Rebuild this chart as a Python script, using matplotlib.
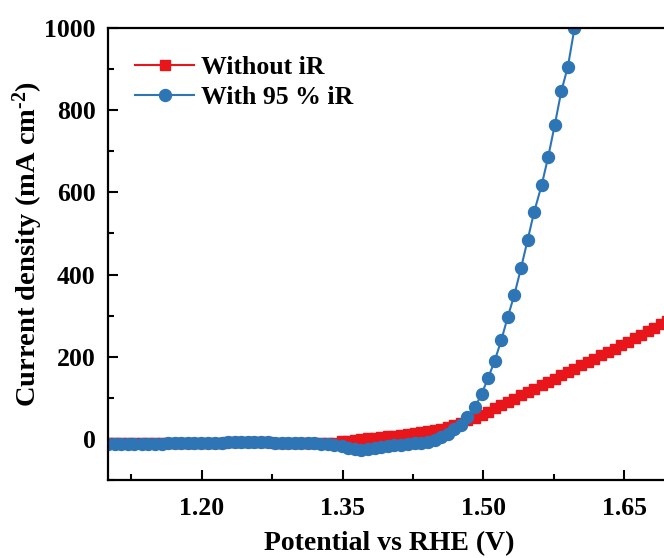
import matplotlib
matplotlib.use("Agg")
import matplotlib.pyplot as plt
from matplotlib.ticker import MultipleLocator

plt.rcParams['font.family'] = ['Liberation Serif', 'DejaVu Serif']
plt.rcParams['font.weight'] = 'bold'
plt.rcParams['mathtext.fontset'] = 'custom'
plt.rcParams['mathtext.rm'] = 'Liberation Serif:bold'
plt.rcParams['mathtext.it'] = 'Liberation Serif:bold'
plt.rcParams['mathtext.default'] = 'rm'

# potential grid (V vs RHE)
potencial = [
    1.100, 1.107, 1.114, 1.121, 1.128, 1.136, 1.143, 1.150, 1.157, 1.164,
    1.171, 1.178, 1.185, 1.192, 1.199, 1.207, 1.214, 1.221, 1.228, 1.235,
    1.242, 1.249, 1.256, 1.263, 1.270, 1.278, 1.285, 1.292, 1.299, 1.306,
    1.313, 1.320, 1.327, 1.334, 1.341, 1.349, 1.356, 1.363, 1.370, 1.377,
    1.384, 1.391, 1.398, 1.405, 1.412, 1.420, 1.427, 1.434, 1.441, 1.448,
    1.455, 1.462, 1.469, 1.476, 1.483, 1.491, 1.498, 1.505, 1.512, 1.519,
    1.526, 1.533, 1.540, 1.547, 1.554, 1.562, 1.569, 1.576, 1.583, 1.590,
    1.597, 1.604, 1.611, 1.618, 1.625, 1.633, 1.640, 1.647, 1.654, 1.661,
    1.668, 1.675, 1.682, 1.689, 1.696,
]

# current density without iR compensation (mA cm-2)
sem_ir = [
    -11, -11, -11, -11, -11, -11, -11, -11, -11, -11,
    -11, -11, -10, -10, -10, -9, -9, -9, -8, -8,
    -8, -8, -8, -8, -8, -9, -9, -9, -10, -10,
    -10, -10, -11, -11, -9, -6, -4, -2, 0, 1,
    3, 5, 6, 8, 10, 12, 14, 16, 19, 22,
    25, 29, 34, 39, 45, 52, 59, 66, 74, 82,
    90, 98, 106, 114, 122, 131, 139, 147, 155, 163,
    171, 179, 187, 195, 203, 212, 220, 228, 236, 245,
    253, 262, 270, 279, 288,
]

# with 95 % iR compensation
pot_ir = potencial[:71]
com_ir = [
    -12, -12, -13, -12, -12, -13, -12, -12, -12, -11,
    -11, -11, -10, -10, -10, -9, -9, -9, -8, -8,
    -8, -8, -8, -8, -8, -9, -9, -9, -10, -10,
    -11, -11, -12, -13, -15, -18, -22, -25, -26, -25,
    -22, -20, -18, -16, -14, -13, -11, -9, -7, -3,
    4, 12, 23, 35, 53, 77, 109, 148, 190, 240,
    297, 351, 415, 483, 552, 617, 686, 764, 846, 906,
    999,
]

fig = plt.figure(figsize=(6.64, 5.58), dpi=100)
ax = fig.add_axes([0.1627, 0.1398, 0.848, 0.81])

ax.plot(potencial, sem_ir, color='#E8161B', marker='s', markersize=7.6,
        lw=1.5, label='Without iR')
ax.plot(pot_ir, com_ir, color='#2E75B6', marker='o', markersize=8.6,
        lw=1.5, label='With 95 % iR')

ax.set_xlim(1.10, 1.70)
ax.set_ylim(-100, 1000)
ax.xaxis.set_minor_locator(MultipleLocator(0.075))
ax.yaxis.set_major_locator(MultipleLocator(200))
ax.yaxis.set_minor_locator(MultipleLocator(100))
ax.set_xticks([1.20, 1.35, 1.50, 1.65])
ax.set_xticklabels(['1.20', '1.35', '1.50', '1.65'])

ax.tick_params(which='both', direction='in', width=1.5, labelsize=18.5,
               top=False, right=False)
ax.tick_params(which='major', length=7)
ax.tick_params(axis='x', which='major', pad=12)
ax.tick_params(axis='y', which='major', pad=9)
ax.tick_params(which='minor', length=4)
for s in ax.spines.values():
    s.set_linewidth(1.6)

ax.set_xlabel('Potential vs RHE (V)', fontsize=20, fontweight='bold', labelpad=8)
ax.set_ylabel(r'Current density (mA cm$^{\text{-2}}$)', fontsize=20.5,
              fontweight='bold')
ax.yaxis.set_label_coords(-0.112, 0.522)

leg = ax.legend(loc='upper left', bbox_to_anchor=(0.03, 0.96), frameon=False,
                fontsize=18.5, handlelength=2.3, handletextpad=0.25,
                labelspacing=0.25, borderaxespad=0)

fig.savefig('out.png', dpi=100)
